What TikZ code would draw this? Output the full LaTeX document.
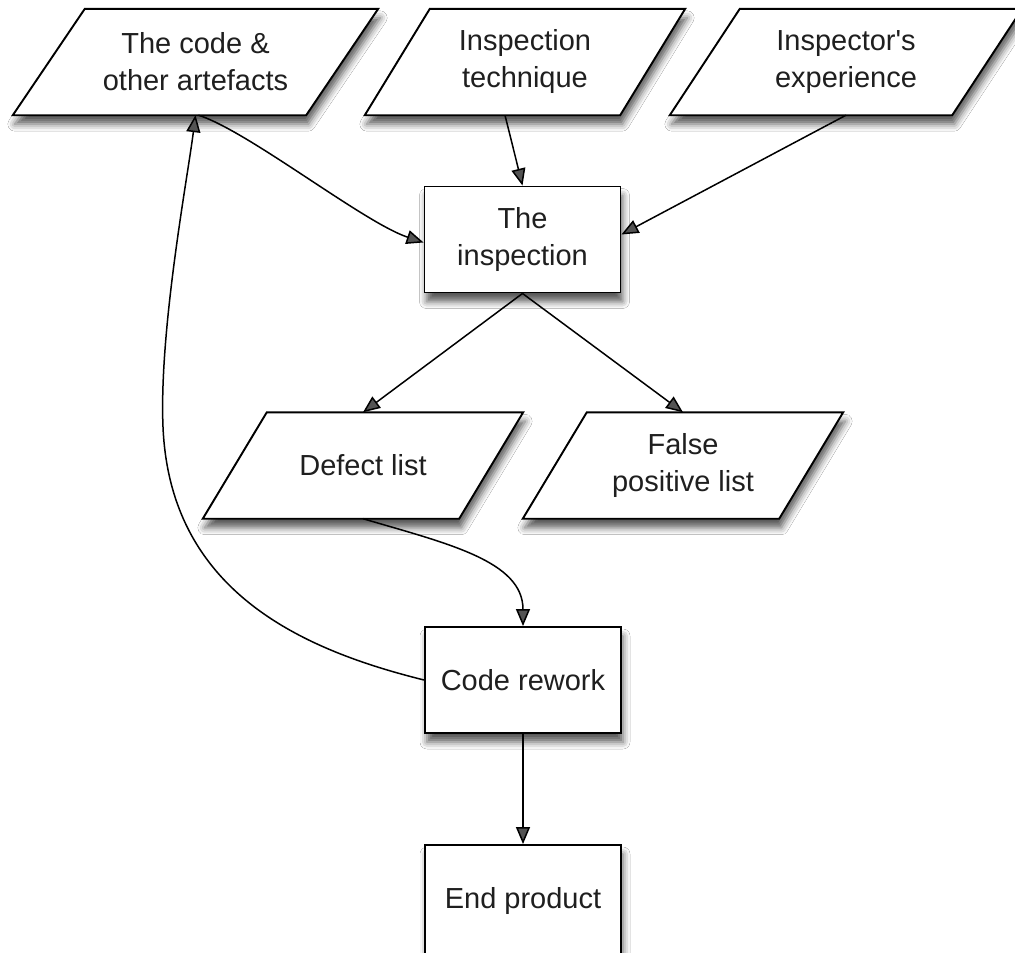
\documentclass[tikz,border=0pt]{standalone}
\usepackage{fontspec}
\setmainfont{Liberation Sans}[Ligatures=TeXOff]
\usetikzlibrary{arrows.meta,shadows.blur,calc}
\newcommand\drawpara[2]{%
  \draw[parashape] ($(#1.north west)+(#2,0)$) -- (#1.north east) -- ($(#1.south east)+(-#2,0)$) -- (#1.south west) -- cycle;}
\begin{document}
\begin{tikzpicture}[x=1pt,y=-1pt,
  lbl/.style={font=\fontsize{29}{37}\selectfont, align=center, inner sep=0pt, text=black!88},
  shadowed/.style={blur shadow={shadow xshift=2pt, shadow yshift=-9pt, shadow blur radius=7pt, shadow opacity=65}},
  boxnode/.style={lbl, draw, line width=1.9pt, fill=white, minimum width=196pt, minimum height=106pt, shadowed},
  paranode/.style={inner sep=0pt, minimum height=106pt},
  parashape/.style={draw, line width=1.9pt, fill=white, line join=miter, shadowed},
  conn/.style={line width=1.5pt, -{Triangle[length=17pt,width=14pt]}}
]
\useasboundingbox (0,0) rectangle (1015,953);
\fill[white] (0,0) rectangle (1015,953);

% parallelogram frames
\node[paranode, minimum width=365pt] (A) at (195.5,62) {};
\node[paranode, minimum width=320pt] (B) at (525,62) {};
\node[paranode, minimum width=352pt] (C) at (846,62) {};
\node[paranode, minimum width=320pt] (E) at (363,465.5) {};
\node[paranode, minimum width=320pt] (F) at (683,465.5) {};
\drawpara{A}{72}
\drawpara{B}{65}
\drawpara{C}{70}
\drawpara{E}{64}
\drawpara{F}{64}

% parallelogram texts
\node[lbl] (At) at (A) {The code \&\\other artefacts};
\node[lbl] (Bt) at (B) {Inspection\\technique};
\node[lbl] (Ct) at (C) {Inspector's\\experience};
\node[lbl] (Et) at (E) {Defect list};
\node[lbl] (Ft) at (F) {False\\positive list};

% rectangles
\node[boxnode] (D) at (522.5,239.5) {The\\inspection};
\node[boxnode] (G) at (523,680) {Code rework};
\node[boxnode, minimum height=112pt] (H) at (523,901) {End product};

% connectors
\draw[conn] ($(A.south)+(3,0)$) .. controls +(50,16) and +(-60,-20) .. ($(D.west)+(0,3)$);
\draw[conn] ($(B.south)+(-20,0)$) -- (D.north);
\draw[conn] (C.south) -- ($(D.east)+(0,-5)$);
\draw[conn] (D.south) -- (E.north);
\draw[conn] (D.south) -- (F.north);
\draw[conn] (E.south) .. controls +(85,25) and +(0,-65) .. (G.north);
\coordinate (loopL) at (163,427);
\draw[conn] (G.west) .. controls +(-125,-31) and +(7,163) .. (loopL)
  .. controls +(-4,-97) and +(-8,63) .. (A.south);
\draw[conn] (G.south) -- (H.north);
\end{tikzpicture}
\end{document}
